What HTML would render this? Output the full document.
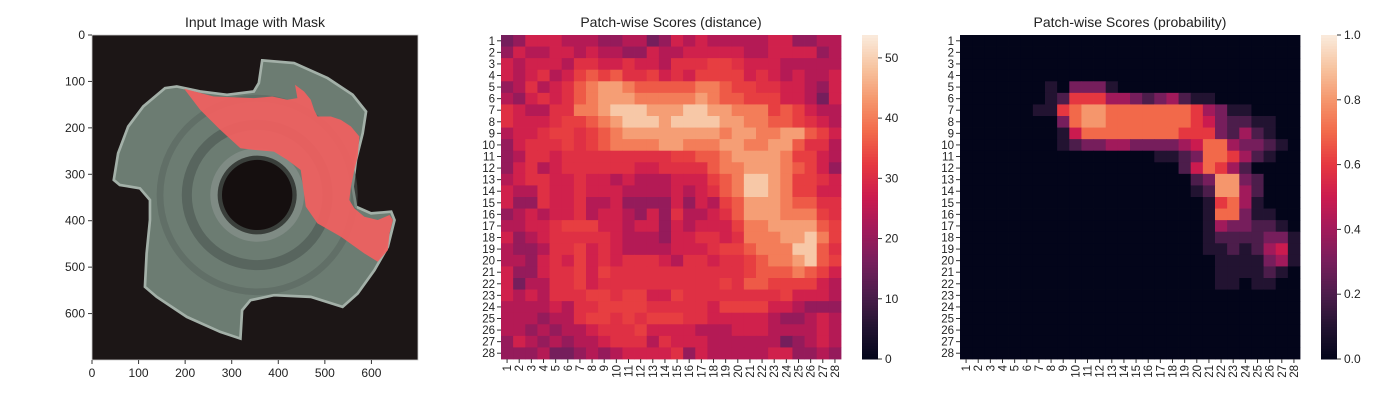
<!DOCTYPE html>
<html><head><meta charset="utf-8"><style>
html,body{margin:0;padding:0;background:#fff;}
svg{display:block;font-family:"Liberation Sans",Arial,sans-serif;}
</style></head><body>
<svg id="fig" width="1400" height="400" viewBox="0 0 1400 400" xmlns="http://www.w3.org/2000/svg">
<rect width="1400" height="400" fill="#fff"/>
<g id="p1">
 <text x="255" y="27" font-size="14" text-anchor="middle" fill="#222">Input Image with Mask</text>
 <svg x="92" y="35" width="326" height="325" viewBox="0 0 700 700" preserveAspectRatio="none">
  <rect width="700" height="700" fill="#1c1616"/>
  <g transform="scale(0.7194) translate(-157 -46)">
   <polygon fill="#6c7c72" stroke="#a3b0a8" stroke-width="8" points="665,122 760,130 860,175 935,225 975,275 965,340 945,420 935,500 945,560 990,580 1050,575 1060,600 1040,680 1000,750 950,820 905,860 810,830 700,825 630,840 605,870 600,955 540,935 440,890 350,830 315,800 320,700 330,600 330,540 300,505 240,495 222,480 235,400 265,320 310,260 375,205 410,200 480,215 560,225 640,215 655,190"/>
   <circle cx="650" cy="525" r="290" fill="none" stroke="#55625b" stroke-width="20" opacity="0.5"/>
   <circle cx="650" cy="525" r="210" fill="none" stroke="#4b5751" stroke-width="30" opacity="0.6"/>
   <circle cx="650" cy="525" r="140" fill="#7f8b84"/>
   <circle cx="650" cy="525" r="118" fill="#3a3f3b"/>
   <circle cx="650" cy="525" r="105" fill="#150f0f"/>
   <polygon fill="#f06060" opacity="0.93" points="432,207 520,230 640,235 695,230 740,240 770,235 763,195 790,215 810,240 820,270 830,290 870,290 900,300 930,320 955,350 950,410 940,450 930,500 925,540 940,565 970,590 1010,600 1045,585 1055,600 1045,640 1040,690 1010,725 970,700 900,650 830,610 795,560 780,450 740,420 700,395 640,390 600,385 540,330 480,270"/>
  </g>
 </svg>
 <g id="ax1"></g>
</g>
<g id="p2">
 <text x="671" y="27" font-size="14" text-anchor="middle" fill="#222">Patch-wise Scores (distance)</text>
</g>
<g id="p3">
 <text x="1130" y="27" font-size="14" text-anchor="middle" fill="#222">Patch-wise Scores (probability)</text>
</g>
</svg>
<script>
// Data: per-row levels (0-9)
const distLevelValues = [16,20,24,28,31,33,36,40,44,49];
const distRows = [
"0133322211220132322222331122","1322332322113223333322333312","3233324433433244455433322222",
"3234235656445343555534323223","1242346788766666776554433213","2134346788877777876655533203",
"4322447789998889988777565322","4333455678999899998877665432","2334554567888888887887788653",
"1344454567777887778877886442","1244344444444455667888875532","1342344444433444467788876531",
"2344334332322233356799875543","3224334333222232346799875533","3114334223111131325688876644",
"1232334233213142234688877754","2233455533233132333577888865","3123444443222133443477788975",
"2112445343222233345567779964","2213435343444324434456778965","3113445354444444444456667653",
"3022445344444444445466555532","3232444554553354444444453332","2222324455554444435555332111",
"2221224554545554433333211232","2212122344453333222333222232","1321212234442433322222201232",
"1112001212333341322222331121"];
const probRows = [
"0000000000000000000000000000","0000000000000000000000000000","0000000000000000000000000000",
"0000000000000000000000000000","0000000103331000000000000000","0000000126664432342110000000",
"0000001167887777777643110000","0000000037887777777653221100","0000000015777777776663242100",
"0000000012334433334577433210","0000000000000000112377642100","0000000000000000002576420000",
"0000000000000000000238832000","0000000000000000000128842000","0000000000000000000016741000",
"0000000000000000000017731100","0000000000000000000014332210","0000000000000000000012222331",
"0000000000000000000011212451","0000000000000000000001111341","0000000000000000000001111210",
"0000000000000000000001101100","0000000000000000000000000000","0000000000000000000000000000",
"0000000000000000000000000000","0000000000000000000000000000","0000000000000000000000000000",
"0000000000000000000000000000"];
const imgTicks = [0,100,200,300,400,500,600];
const distTicks = [0,10,20,30,40,50];
const probTicks = [0.0,0.2,0.4,0.6,0.8,1.0];
const distValues = distRows.map(r => r.split('').map(c => distLevelValues[+c]));
const probValues = probRows.map(r => r.split('').map(c => +c * 0.1));

const NS = "http://www.w3.org/2000/svg";
function mk(tag, attrs, parent, txt){const e=document.createElementNS(NS,tag);for(const k in attrs)e.setAttribute(k,attrs[k]);if(txt!==undefined)e.textContent=txt;parent.appendChild(e);return e;}
const stops=[[0,[3,5,26]],[0.1,[34,19,49]],[0.2,[76,29,75]],[0.3,[118,30,92]],[0.4,[161,26,91]],[0.5,[203,27,79]],[0.6,[229,55,64]],[0.7,[242,105,74]],[0.8,[245,150,108]],[0.9,[247,196,160]],[1,[250,235,221]]];
function rocket(t){t=Math.max(0,Math.min(1,t));for(let i=1;i<stops.length;i++){if(t<=stops[i][0]){const a=stops[i-1],b=stops[i];const f=(t-a[0])/(b[0]-a[0]);const c=a[1].map((v,j)=>Math.round(v+(b[1][j]-v)*f));return `rgb(${c})`;}}return 'rgb(250,235,221)';}

const ax1=document.getElementById('ax1');
const ix=v=>92+v*326/700, iy=v=>35+v*325/700;
mk('rect',{x:92,y:35,width:326,height:325,fill:'none',stroke:'#ccc','stroke-width':0.8},ax1);
imgTicks.forEach(t=>{
  mk('line',{x1:ix(t),x2:ix(t),y1:360,y2:364,stroke:'#333'},ax1);
  const tx=mk('text',{x:ix(t),y:377,'font-size':12,'text-anchor':'middle',fill:'#222'},ax1,String(t));
  
  
  mk('line',{x1:88,x2:92,y1:iy(t),y2:iy(t),stroke:'#333'},ax1);
  const ty=mk('text',{x:85,y:iy(t)+4,'font-size':12,'text-anchor':'end',fill:'#222'},ax1,String(t));
  
  
});

function heatmap(parent, values, x0, y0, w, h, vmin, vmax, cbx, ticks, fmt, nm){
  const n=28, cw=w/n, ch=h/n;
  const g=mk('g',{},parent);
  
  
  values.forEach((row,r)=>row.forEach((v,c)=>{
    const cell=mk('rect',{x:(x0+c*cw).toFixed(2),y:(y0+r*ch).toFixed(2),width:(cw+0.4).toFixed(2),height:(ch+0.4).toFixed(2),fill:rocket((v-vmin)/(vmax-vmin))},g);
    
    
  }));
  for(let i=0;i<n;i++){
    const yc=y0+(i+0.5)*ch, xc=x0+(i+0.5)*cw;
    mk('line',{x1:x0-4,x2:x0,y1:yc,y2:yc,stroke:'#333'},parent);
    const yl=mk('text',{x:x0-6,y:yc+4,'font-size':11.5,'text-anchor':'end',fill:'#222'},parent,String(i+1));
    
    
    mk('line',{x1:xc,x2:xc,y1:y0+h,y2:y0+h+4,stroke:'#333'},parent);
    const xl=mk('text',{x:0,y:0,'font-size':11.5,'text-anchor':'end',fill:'#222',transform:`translate(${xc+4},${y0+h+6}) rotate(-90)`},parent,String(i+1));
    
    
  }
  const cb=mk('g',{},parent);
  
  
  const steps=120;
  for(let i=0;i<steps;i++){
    mk('rect',{x:cbx,y:(y0+h-(i+1)*h/steps).toFixed(2),width:16,height:(h/steps+0.5).toFixed(2),fill:rocket((i+0.5)/steps)},cb);
  }
  ticks.forEach(t=>{
    const yy=y0+h-(t-vmin)/(vmax-vmin)*h;
    mk('line',{x1:cbx+16,x2:cbx+20,y1:yy,y2:yy,stroke:'#333'},cb);
    const tl=mk('text',{x:cbx+23,y:yy+4,'font-size':12,fill:'#222'},cb,fmt(t));
    
    
  });
}
heatmap(document.getElementById('p2'), distValues, 501, 35, 340, 324, 0, 53.8, 862, distTicks, t=>String(t), 'distance');
heatmap(document.getElementById('p3'), probValues, 960, 35, 340, 324, 0, 1, 1321, probTicks, t=>t.toFixed(1), 'probability');
</script>
</body></html>
